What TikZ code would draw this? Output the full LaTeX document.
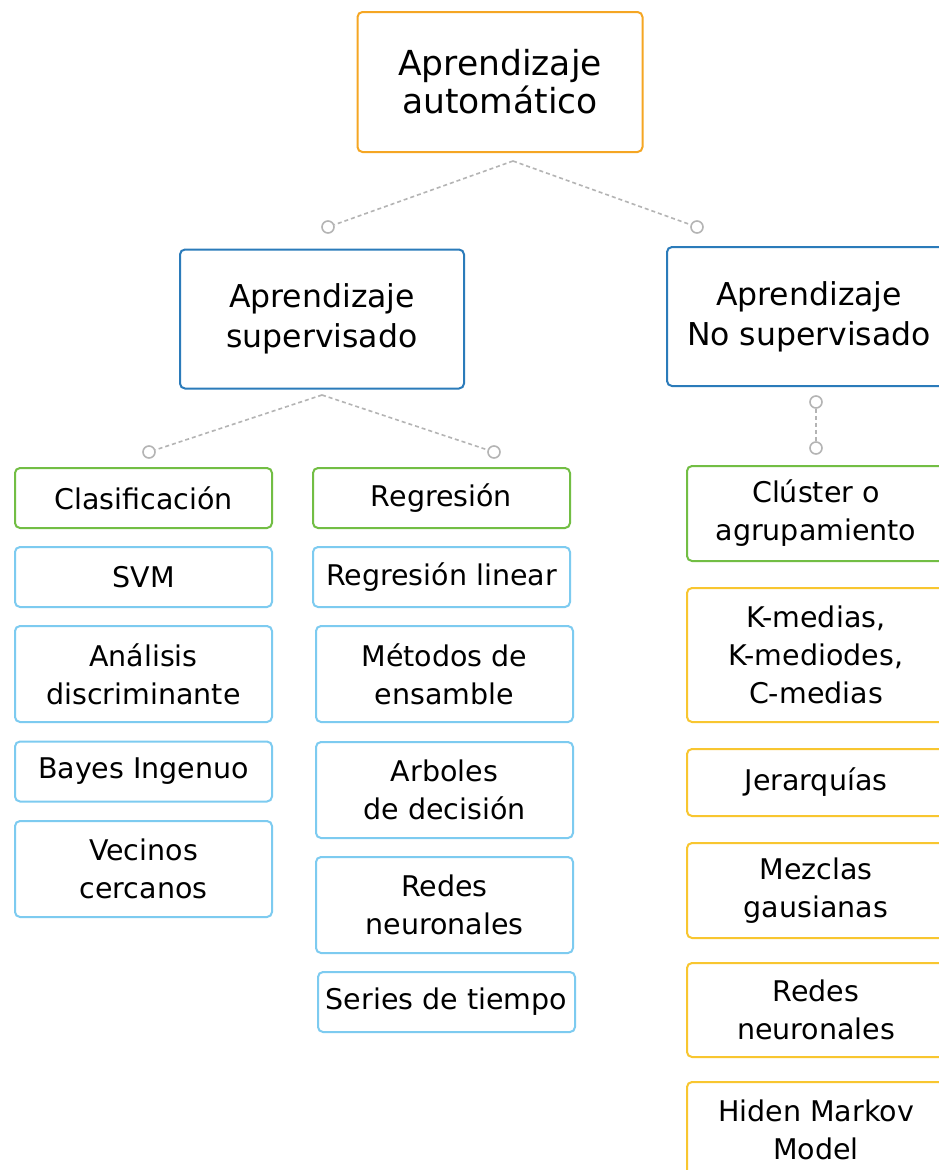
\documentclass[tikz,border=0pt]{standalone}
\usepackage{fontspec}
\setmainfont{DejaVu Sans}
\definecolor{corange}{HTML}{F5A623}
\definecolor{cblue}{HTML}{2B7BBA}
\definecolor{cgreen}{HTML}{72BE44}
\definecolor{clblue}{HTML}{7DCBF0}
\definecolor{cyellow}{HTML}{F8C630}
\definecolor{cgray}{HTML}{B4B4B4}
\begin{document}
\begin{tikzpicture}[x=1pt,y=1pt,
  box/.style={draw, rounded corners=5pt, line width=2pt, align=center, inner sep=0pt, text=black, fill=white},
  topbox/.style={box, draw=corange, minimum width=285pt, minimum height=140pt, font=\fontsize{34.5}{38}\selectfont},
  lvlbox/.style={box, draw=cblue, minimum width=284pt, minimum height=139pt, font=\fontsize{31.5}{40}\selectfont},
  leaf/.style={box, minimum width=257pt, font=\fontsize{28.5}{38}\selectfont},
  rleaf/.style={leaf, minimum width=258pt},
  catg/.style={draw=cgreen},
  itemb/.style={draw=clblue},
  itemy/.style={draw=cyellow},
  onel/.style={minimum height=60pt},
  twol/.style={minimum height=96pt},
  dot/.style={circle, draw=cgray, line width=1.6pt, minimum size=12pt, inner sep=0pt, fill=white},
  conn/.style={draw=cgray, line width=1.6pt, dash pattern=on 4pt off 3pt}]
\useasboundingbox (0,0) rectangle (938,-1170);
\fill[white] (0,0) rectangle (938,-1170);

% top
\node[topbox] (top) at (500,-82) {Aprendizaje\\automático};
\node[lvlbox] (sup) at (322,-319) {Aprendizaje\\supervisado};
\node[lvlbox] (nosup) at (809,-316.5) {Aprendizaje\\No supervisado};

% connectors level 1
\coordinate (ap1) at (513,-161);
\node[dot] (d1) at (328,-227) {};
\node[dot] (d2) at (697,-227) {};
\draw[conn] (ap1) -- (d1);
\draw[conn] (ap1) -- (d2);

% connectors level 2
\coordinate (ap2) at (322,-395);
\node[dot] (d3) at (149,-452) {};
\node[dot] (d4) at (494,-452) {};
\draw[conn] (ap2) -- (d3);
\draw[conn] (ap2) -- (d4);
\node[dot] (d5) at (816,-402) {};
\node[dot] (d6) at (816,-448) {};
\draw[conn] (d5) -- (d6);

% left column
\node[leaf,catg,onel] (clas) at (143.5,-498) {Clasificación};
\node[leaf,itemb,onel] (svm) at (143.5,-577) {SVM};
\node[leaf,itemb,twol] (anal) at (143.5,-674) {Análisis\\discriminante};
\node[leaf,itemb,onel] (bayes) at (143.5,-771.5) {Bayes Ingenuo};
\node[leaf,itemb,twol] (vec) at (143.5,-869) {Vecinos\\cercanos};

% middle column
\node[leaf,catg,onel] (reg) at (441.5,-498) {Regresión};
\node[leaf,itemb,onel] (rlin) at (441.5,-577) {Regresión linear};
\node[leaf,itemb,twol] (met) at (444.5,-674) {Métodos de\\ensamble};
\node[leaf,itemb,twol] (arb) at (444.5,-790) {Arboles\\de decisión};
\node[leaf,itemb,twol] (redes) at (444.5,-905) {Redes\\neuronales};
\node[leaf,itemb,onel] (series) at (446.5,-1002) {Series de tiempo};

% right column
\node[rleaf,catg,minimum height=95pt] (clus) at (816,-513.5) {Clúster o\\agrupamiento};
\node[rleaf,itemy,minimum height=134pt] (kmed) at (816,-655) {K-medias,\\K-mediodes,\\C-medias};
\node[rleaf,itemy,minimum height=67pt] (jer) at (816,-782.5) {Jerarquías};
\node[rleaf,itemy,minimum height=95pt] (mez) at (816,-890.5) {Mezclas\\gausianas};
\node[rleaf,itemy,minimum height=94pt] (red2) at (816,-1010) {Redes\\neuronales};
\node[rleaf,itemy,twol] (hmm) at (816,-1130) {Hiden Markov\\Model};
\end{tikzpicture}
\end{document}
